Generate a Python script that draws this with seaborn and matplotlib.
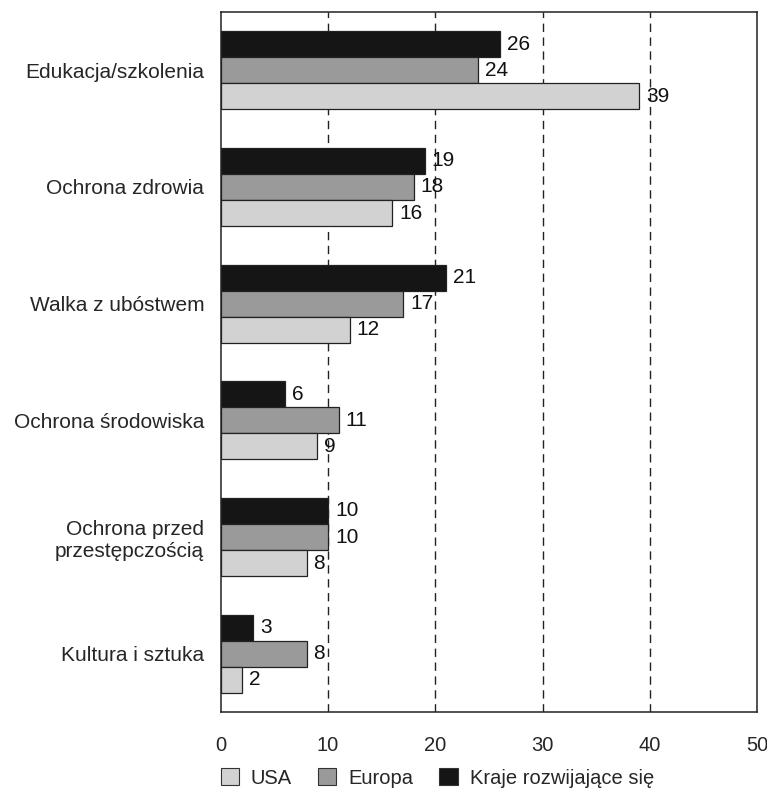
import matplotlib
matplotlib.use("Agg")
import matplotlib.pyplot as plt
import seaborn as sns
import pandas as pd
from matplotlib.patches import Patch

categories = ["Edukacja/szkolenia", "Ochrona zdrowia", "Walka z ubóstwem",
              "Ochrona środowiska", "Ochrona przed\nprzestępczością", "Kultura i sztuka"]
series = ["Kraje rozwijające się", "Europa", "USA"]
kraje = [26, 19, 21, 6, 10, 3]
europa = [24, 18, 17, 11, 10, 8]
usa = [39, 16, 12, 9, 8, 2]
xticks = [0, 10, 20, 30, 40, 50]
colors = {"Kraje rozwijające się": "#151515", "Europa": "#9a9a9a", "USA": "#d2d2d2"}

rows = []
for i, c in enumerate(categories):
    for s, vals in zip(series, [kraje, europa, usa]):
        rows.append({"kategoria": c, "seria": s, "wartosc": vals[i]})
df = pd.DataFrame(rows)

sns.set_theme(style="white")
plt.rcParams['font.family'] = ['Liberation Sans', 'DejaVu Sans']

fig = plt.figure(figsize=(7.67, 7.93), dpi=100)
ax = fig.add_axes([0.288, 0.102, 0.699, 0.883])

sns.barplot(data=df, y="kategoria", x="wartosc", hue="seria", order=categories,
            hue_order=series, palette=colors, orient="h", width=0.67,
            edgecolor="#222222", linewidth=0.9, legend=False, ax=ax, saturation=1)

for cont in ax.containers:
    ax.bar_label(cont, padding=5, fontsize=15, color="#111111")

ax.set_xlim(0, 50)
ax.set_ylim(5.5, -0.5)
ax.set_xticks(xticks)
ax.set_xticklabels([str(t) for t in xticks], fontsize=14.5)
ax.set_yticks(range(len(categories)))
ax.set_yticklabels(categories, fontsize=15, ha="right", multialignment="right")
ax.set_yticks([i + 0.5 for i in range(len(categories) - 1)], minor=True)
ax.tick_params(axis="y", which="major", length=0, pad=12)
ax.tick_params(axis="y", which="minor", length=5, width=1, direction="out", color="#222222")
ax.tick_params(axis="x", which="major", length=6, width=1, direction="inout", pad=14, color="#222222")
ax.set_xlabel("")
ax.set_ylabel("")

for x in [10, 20, 30, 40]:
    ax.axvline(x, color="#222222", linestyle=(0, (6, 4)), linewidth=1, zorder=0)

for sp in ax.spines.values():
    sp.set_visible(True)
    sp.set_color("#222222")
    sp.set_linewidth(1.1)

handles = [Patch(facecolor=colors[s], edgecolor="#333333", linewidth=0.8, label=s)
           for s in ["USA", "Europa", "Kraje rozwijające się"]]
fig.legend(handles=handles, loc="center", bbox_to_anchor=(0.57, 0.019), ncol=3,
           frameon=False, fontsize=14.5, handlelength=0.9, handleheight=0.9,
           handletextpad=0.6, columnspacing=1.3)

fig.savefig("out.png", dpi=100)
